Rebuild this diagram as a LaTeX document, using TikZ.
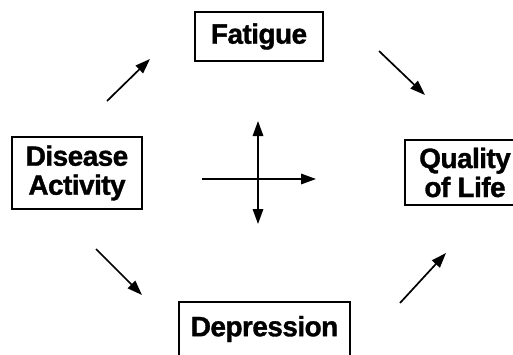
\documentclass[tikz,border=0pt]{standalone}
\usepackage{fontspec}
\setmainfont[BoldFeatures={FakeBold=1.2,LetterSpace=-2}]{Liberation Sans}
\usetikzlibrary{arrows.meta}
\begin{document}
\begin{tikzpicture}[x=1pt,y=-1pt,
  box/.style={draw,line width=1.5pt,inner sep=0pt,align=center,
    font=\fontsize{28}{29}\selectfont\bfseries},
  tip/.style={Triangle[length=15pt,width=10.5pt]},
  arr/.style={line width=1.7pt,-{Triangle[length=15pt,width=10.5pt]}},
  darr/.style={line width=1.7pt,{Triangle[length=15pt,width=10.5pt]}-{Triangle[length=15pt,width=10.5pt]}}]
\useasboundingbox (0,0) rectangle (513,354);
\node[box,minimum width=128pt,minimum height=49pt] (fat) at (259,36.5) {Fatigue};
\node[box,minimum width=130pt,minimum height=72pt] (dis) at (77,173) {Disease\\Activity};
\node[box,minimum width=120pt,minimum height=65pt] (qol) at (465,172.5) {Quality\\of Life};
\node[box,minimum width=171pt,minimum height=54pt] (dep) at (264.5,329) {Depression};
\coordinate (a1s) at (107,101); \coordinate (a1e) at (150,59);
\coordinate (a2s) at (379,51);  \coordinate (a2e) at (425,95);
\coordinate (a3s) at (96,249);  \coordinate (a3e) at (142,295);
\coordinate (a4s) at (400,303); \coordinate (a4e) at (446,253);
\coordinate (vt) at (258,121); \coordinate (vb) at (258,224);
\coordinate (hl) at (202,179); \coordinate (hr) at (316,179);
\draw[arr] (a1s) -- (a1e);
\draw[arr] (a2s) -- (a2e);
\draw[arr] (a3s) -- (a3e);
\draw[arr] (a4s) -- (a4e);
\draw[darr] (vt) -- (vb);
\draw[arr] (hl) -- (hr);
\end{tikzpicture}
\end{document}
